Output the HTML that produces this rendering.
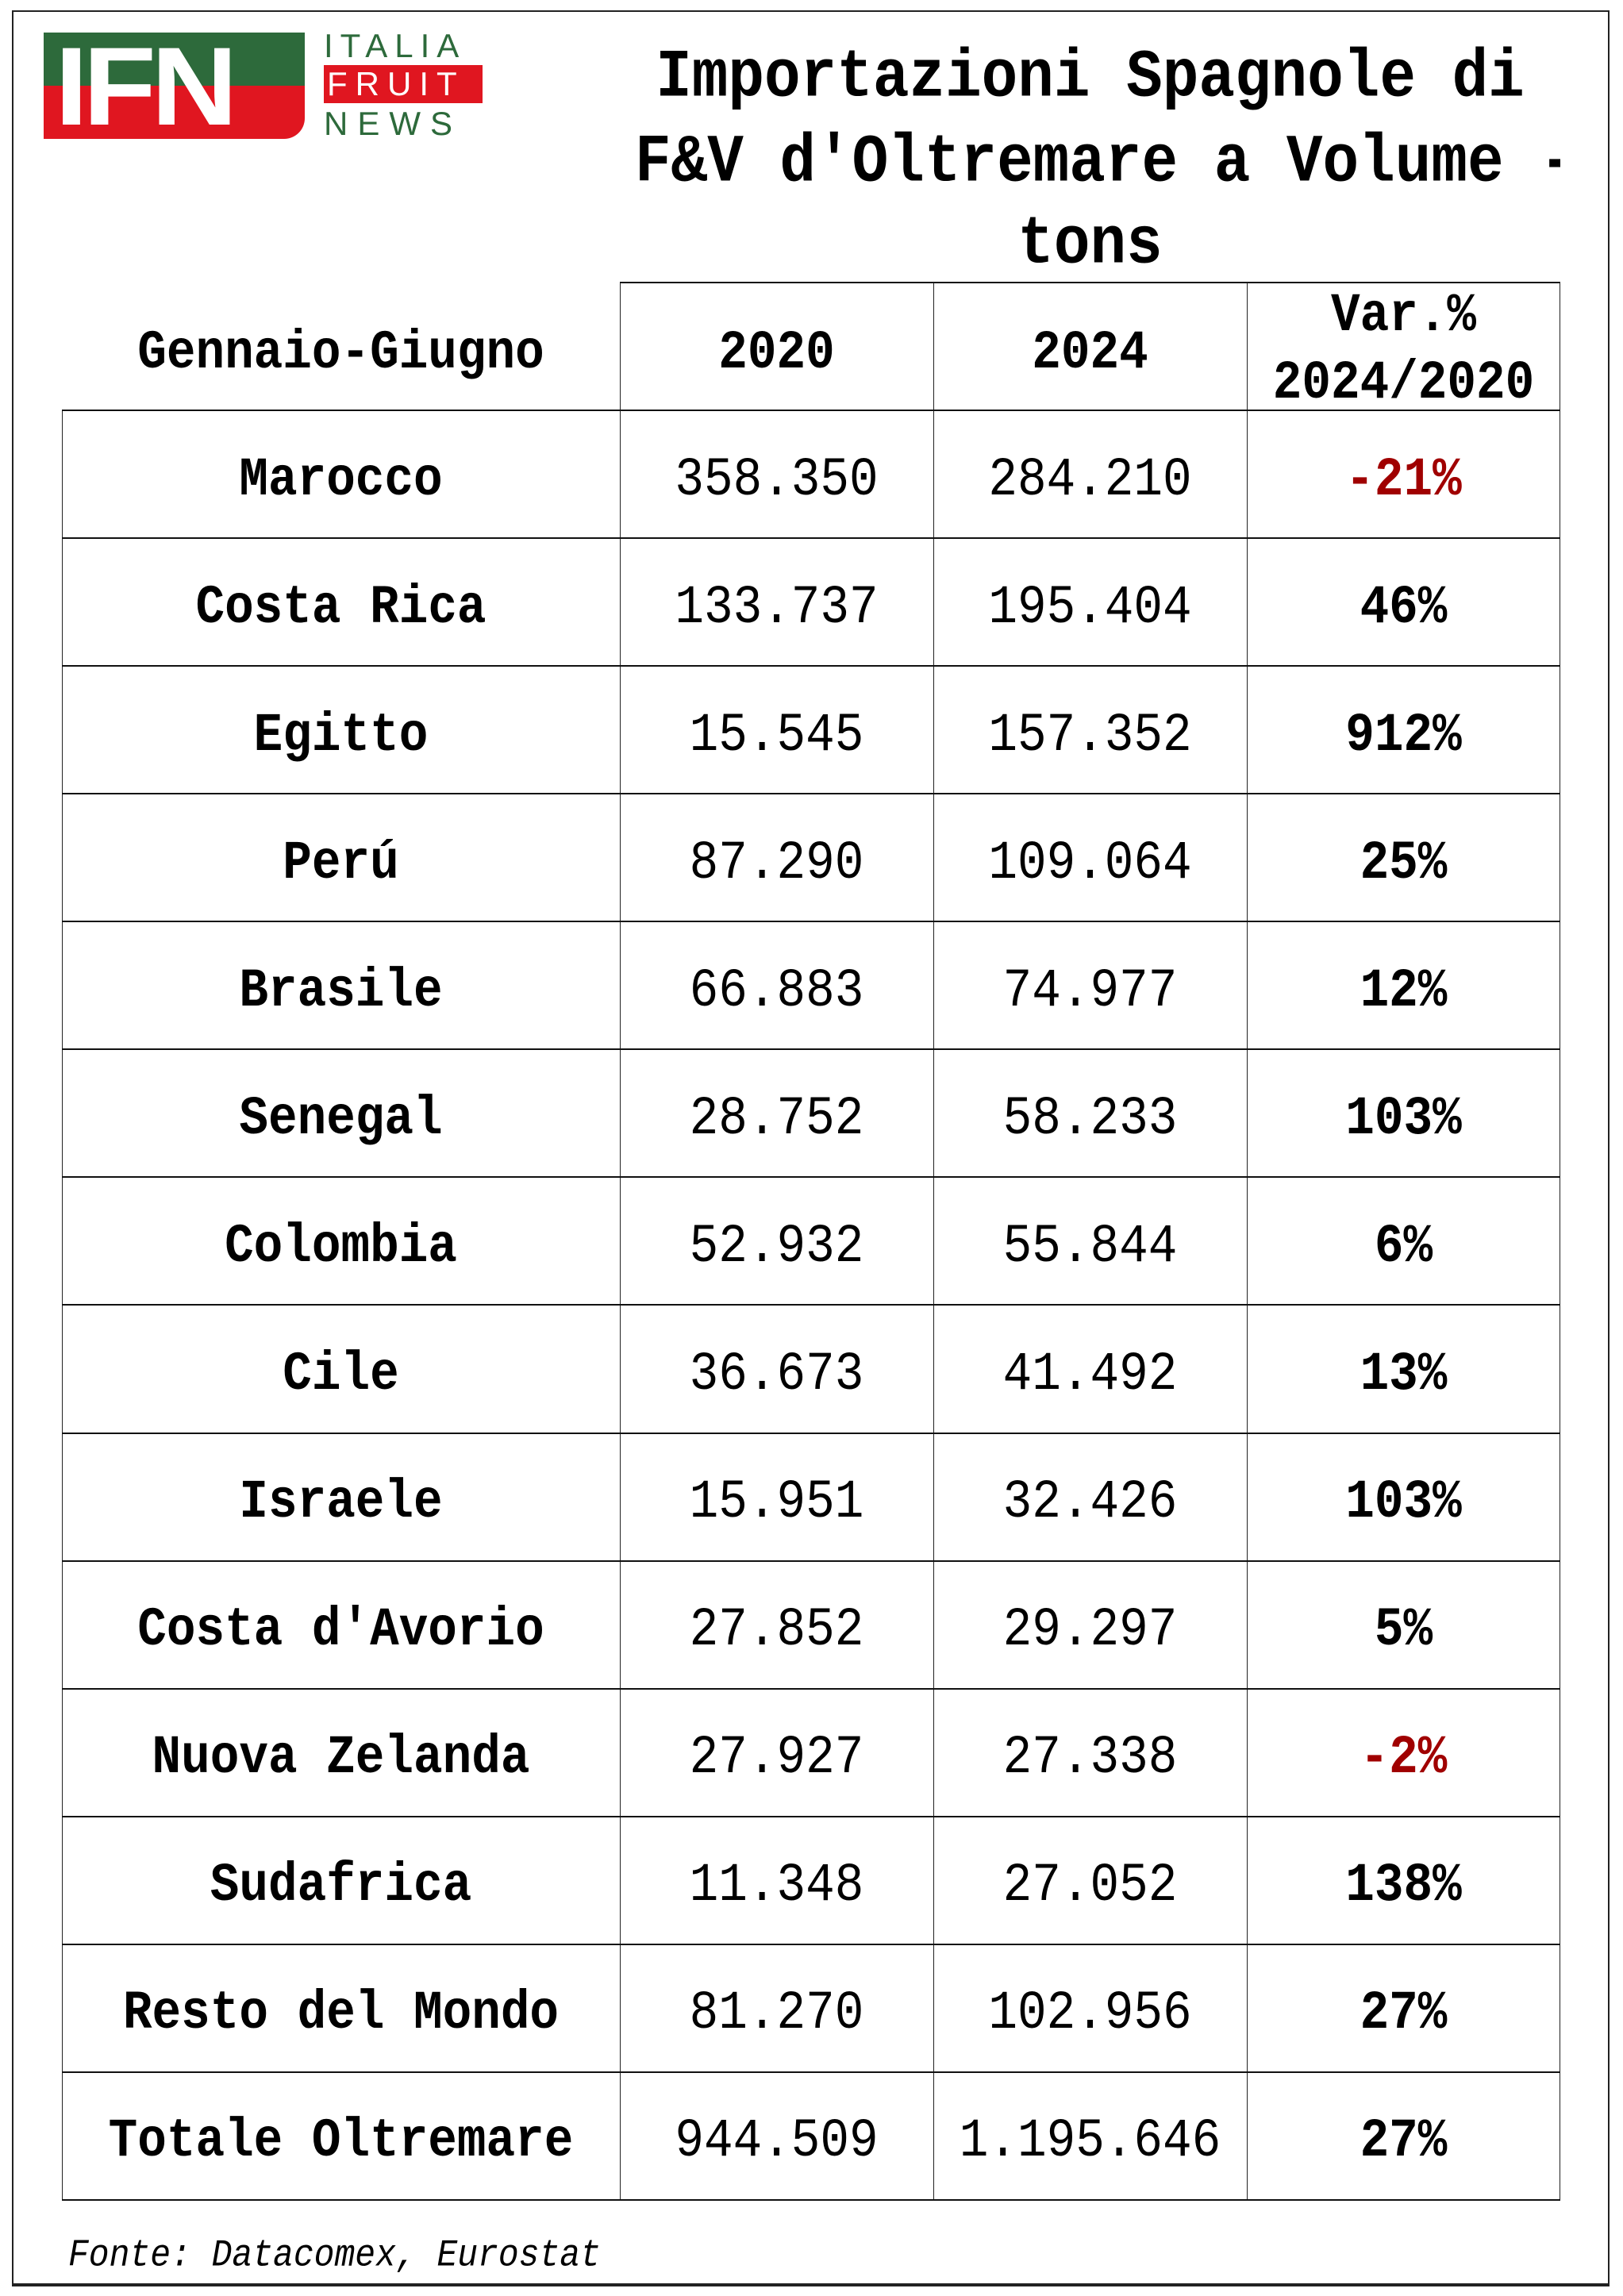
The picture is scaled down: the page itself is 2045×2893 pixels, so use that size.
<!DOCTYPE html>
<html><head><meta charset="utf-8"><style>
html,body{margin:0;padding:0;background:#fff;}
body{width:2045px;height:2893px;position:relative;overflow:hidden;font-family:"Liberation Mono","DejaVu Sans Mono",monospace;color:#000;}
.frame{position:absolute;left:15px;top:13px;width:2013px;height:2868px;border:2px solid #222;border-bottom-width:4px;box-sizing:border-box;}
.t{position:absolute;text-align:center;white-space:nowrap;}
.c{position:absolute;display:flex;align-items:center;justify-content:center;font-size:61px;white-space:nowrap;padding-top:15px;box-sizing:border-box;}
.c span{display:inline-block;transform:scaleY(1.12);}
.b{font-weight:bold;}
.red{color:#a00000;}
.h{position:absolute;height:2px;background:#111;}
.v{position:absolute;width:1px;background:#222;}
</style></head><body>
<div class="frame"></div>
<!-- logo -->
<div style="position:absolute;left:55px;top:41px;width:329px;height:134px;border-radius:0 0 26px 0;overflow:hidden;background:linear-gradient(#2d6a3b 0,#2d6a3b 50%,#e01620 50%,#e01620 100%);">
 <div style="position:absolute;left:14px;top:6px;font-family:'Liberation Sans',sans-serif;font-weight:bold;font-size:140px;line-height:124px;color:#fff;letter-spacing:-6px;transform:scaleX(1.08);transform-origin:left;">IFN</div>
</div>
<div style="position:absolute;left:408px;top:36px;font-family:'Liberation Sans',sans-serif;font-size:42px;line-height:44px;color:#2d6a3b;letter-spacing:9px;">ITALIA</div>
<div style="position:absolute;left:408px;top:82px;width:200px;height:48px;background:#e01620;"></div>
<div style="position:absolute;left:412px;top:84px;font-family:'Liberation Sans',sans-serif;font-size:42px;line-height:44px;color:#fff;letter-spacing:10px;">FRUIT</div>
<div style="position:absolute;left:408px;top:134px;font-family:'Liberation Sans',sans-serif;font-size:42px;line-height:44px;color:#2d6a3b;letter-spacing:12px;">NEWS</div>
<!-- title -->
<div class="t b" style="left:781px;width:1185px;top:53px;font-size:76px;line-height:90px;"><span style="display:inline-block;transform:scaleY(1.12)">Importazioni Spagnole di</span></div>
<div style="position:absolute;left:800px;width:1166px;top:160px;font-size:76px;line-height:90px;font-weight:bold;overflow:hidden;white-space:nowrap;"><span style="display:inline-block;transform:scaleY(1.12)">F&amp;V d'Oltremare a Volume -</span></div>
<div class="t b" style="left:781px;width:1185px;top:263px;font-size:76px;line-height:90px;"><span style="display:inline-block;transform:scaleY(1.12)">tons</span></div>
<!-- header -->
<div class="c b" style="left:78px;width:703px;top:356px;height:161px;padding-top:18px;"><span>Gennaio-Giugno</span></div>
<div class="c b" style="left:781px;width:395px;top:356px;height:161px;padding-top:18px;"><span>2020</span></div>
<div class="c b" style="left:1176px;width:395px;top:356px;height:161px;padding-top:18px;"><span>2024</span></div>
<div class="c b" style="left:1571px;width:395px;top:356px;height:161px;flex-direction:column;line-height:85px;padding-top:8px;"><span>Var.%</span><span>2024/2020</span></div>
<div class="h" style="left:781px;width:1185px;top:355px;"></div>
<div class="v" style="left:781px;top:356px;height:2417px;"></div>
<div class="v" style="left:1176px;top:356px;height:2417px;"></div>
<div class="v" style="left:1571px;top:356px;height:2417px;"></div>
<div class="v" style="left:1965px;top:356px;height:2417px;"></div>
<div class="v" style="left:78px;top:517px;height:2256px;"></div>
<div id="rows"></div>
<div style="position:absolute;left:86px;top:2817px;font-size:43px;font-style:italic;white-space:nowrap;"><span style="display:inline-block;transform:scaleY(1.12)">Fonte: Datacomex, Eurostat</span></div>
<script>
var d=[["Marocco","358.350","284.210","-21%",1],["Costa Rica","133.737","195.404","46%"],["Egitto","15.545","157.352","912%"],["Perú","87.290","109.064","25%"],["Brasile","66.883","74.977","12%"],["Senegal","28.752","58.233","103%"],["Colombia","52.932","55.844","6%"],["Cile","36.673","41.492","13%"],["Israele","15.951","32.426","103%"],["Costa d'Avorio","27.852","29.297","5%"],["Nuova Zelanda","27.927","27.338","-2%",1],["Sudafrica","11.348","27.052","138%"],["Resto del Mondo","81.270","102.956","27%"],["Totale Oltremare","944.509","1.195.646","27%"]];
var h="";
for(var i=0;i<d.length;i++){var y=517+i*161.07;var r=d[i];
h+='<div class="h" style="left:78px;width:1888px;top:'+(y-1)+'px"></div>';
h+='<div class="c b" style="left:78px;width:703px;top:'+y+'px;height:161px"><span>'+r[0]+'</span></div>';
h+='<div class="c" style="left:781px;width:395px;top:'+y+'px;height:161px"><span>'+r[1]+'</span></div>';
h+='<div class="c" style="left:1176px;width:395px;top:'+y+'px;height:161px"><span>'+r[2]+'</span></div>';
h+='<div class="c b'+(r[4]?' red':'')+'" style="left:1571px;width:395px;top:'+y+'px;height:161px"><span>'+r[3]+'</span></div>';}
h+='<div class="h" style="left:78px;width:1888px;top:2771px"></div>';
document.getElementById("rows").innerHTML=h;
</script>
</body></html>
